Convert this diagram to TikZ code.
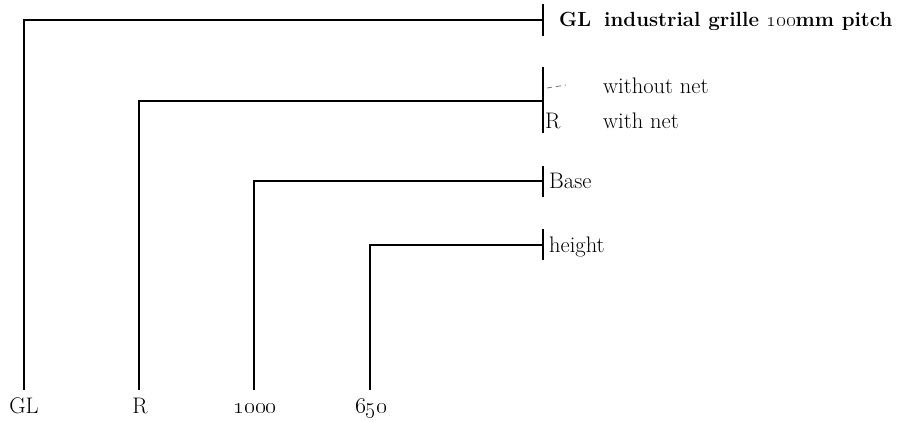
\documentclass[tikz,border=0pt]{standalone}
\usepackage{fix-cm}
\begin{document}
\begin{tikzpicture}[x=1pt,y=-1pt,
  ln/.style={line width=1.7pt},
  lbl/.style={inner sep=0pt,font=\fontsize{22.5}{27}\selectfont},
  blbl/.style={inner sep=0pt,font=\fontsize{20.5}{25}\selectfont\bfseries}]
\useasboundingbox (0,0) rectangle (901,421);
% tick bars
\coordinate (t1a) at (543,4);   \coordinate (t1b) at (543,36);
\coordinate (t2a) at (543,67);  \coordinate (t2b) at (543,133);
\coordinate (t3a) at (543,166); \coordinate (t3b) at (543,197);
\coordinate (t4a) at (543,229); \coordinate (t4b) at (543,260);
\draw[ln] (t1a) -- (t1b);
\draw[ln] (t2a) -- (t2b);
\draw[ln] (t3a) -- (t3b);
\draw[ln] (t4a) -- (t4b);
% corners and feet
\coordinate (c1) at (24,20);  \coordinate (f1) at (24,390);  \coordinate (e1) at (543,20);
\coordinate (c2) at (139,101); \coordinate (f2) at (139,390); \coordinate (e2) at (543,101);
\coordinate (c3) at (254,181); \coordinate (f3) at (254,390); \coordinate (e3) at (543,181);
\coordinate (c4) at (370,245); \coordinate (f4) at (370,390); \coordinate (e4) at (543,245);
\draw[ln] (f1) -- (c1) -- (e1);
\draw[ln] (f2) -- (c2) -- (e2);
\draw[ln] (f3) -- (c3) -- (e3);
\draw[ln] (f4) -- (c4) -- (e4);
% bottom labels
\node[lbl,anchor=base] (b1) at (24,413) {GL};
\node[lbl,anchor=base] (b2) at (140,413) {R};
\node[lbl,anchor=base] (b3) at (255,413) {\oldstylenums{1000}};
\node[lbl,anchor=base] (b4) at (371,413) {\oldstylenums{650}};
% right labels
\node[blbl,anchor=base west] (gl) at (559,26) {GL};
\node[blbl,anchor=base west] (glt) at (604,26) {industrial grille \oldstylenums{100}mm pitch};
\draw[black!55,line width=0.8pt,dash pattern=on 5pt off 4pt] (547,88) -- (566,85);
\node[lbl,anchor=base west] (wo) at (603,93) {without net};
\node[lbl,anchor=base west] (r) at (545,128) {R};
\node[lbl,anchor=base west] (wn) at (603,128) {with net};
\node[lbl,anchor=base west] (base) at (549,188) {Base};
\node[lbl,anchor=base west] (ht) at (549,252) {height};
\end{tikzpicture}
\end{document}
